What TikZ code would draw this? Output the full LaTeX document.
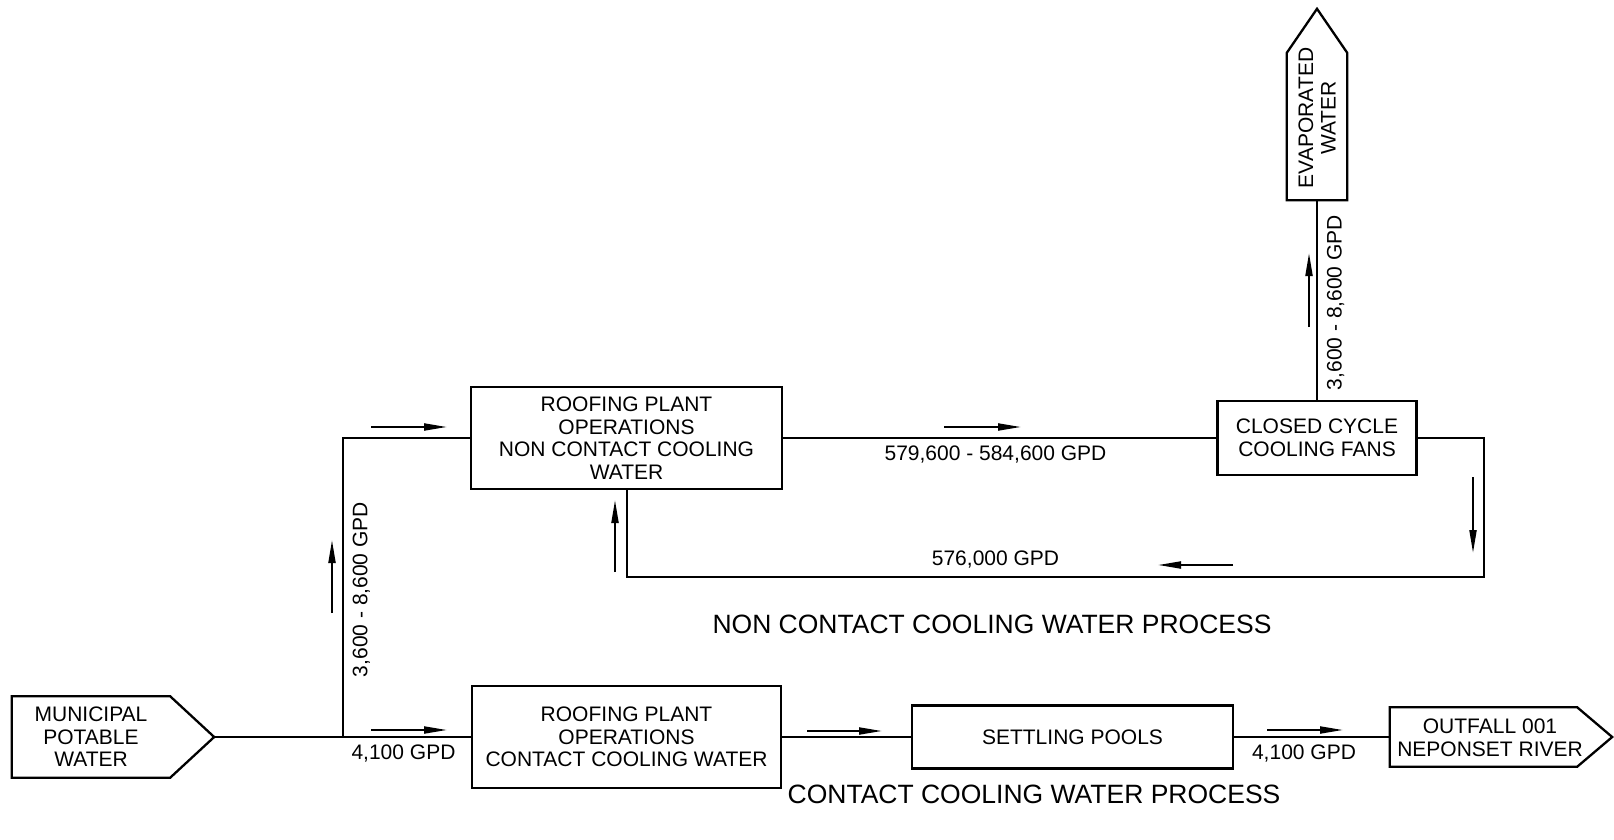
\documentclass[tikz,border=0pt]{standalone}
\usepackage{fontspec}
\setmainfont{Liberation Sans}
\usetikzlibrary{arrows.meta,calc}
\begin{document}
\begin{tikzpicture}[x=1pt,y=-1pt,
  every node/.style={font=\fontsize{21}{22.5}\selectfont, align=center, inner sep=0pt},
  box/.style={draw, line width=2.3pt},
  body/.style={draw=none},
  flow/.style={line width=2pt},
  dir/.style={line width=2pt, -{Triangle[length=23pt,width=7pt]}},
  lbl/.style={},
  ttl/.style={font=\fontsize{26.5}{30}\selectfont}]
\useasboundingbox (0,0) rectangle (1614,840);

% process boxes
\node[box, minimum width=311, minimum height=102] (nc) at (626.5,438) {ROOFING PLANT\\OPERATIONS\\NON CONTACT COOLING\\WATER};
\node[box, minimum width=309, minimum height=102] (cc) at (626.5,737) {ROOFING PLANT\\OPERATIONS\\CONTACT COOLING WATER};
\node[box, minimum width=321, minimum height=63] (sp) at (1072.5,737) {SETTLING POOLS};
\node[box, minimum width=199, minimum height=74] (ccf) at (1317,438) {CLOSED CYCLE\\COOLING FANS};

% municipal source
\node[body, minimum width=158, minimum height=81] (mun) at (91,737) {MUNICIPAL\\POTABLE\\WATER};
\coordinate (muntip) at ($(mun.east)+(44,0)$);
\draw[box, line join=miter] (mun.north west) -- (mun.north east) -- (muntip) -- (mun.south east) -- (mun.south west) -- cycle;

% outfall
\node[body, minimum width=187, minimum height=59] (out) at (1483.5,737) {};
\node (outt) at (1490,738) {OUTFALL 001\\NEPONSET RIVER};
\coordinate (outtip) at ($(out.east)+(35,0)$);
\draw[box] (out.north west) -- (out.north east) -- (outtip) -- (out.south east) -- (out.south west) -- cycle;

% evaporated water
\node[body, minimum width=60, minimum height=147] (ev) at (1317,126.5) {};
\node[rotate=90] (evt) at (1317,118) {EVAPORATED\\WATER};
\coordinate (evtip) at ($(ev.north)+(0,-44)$);
\draw[box] (ev.south west) -- (ev.north west) -- (evtip) -- (ev.north east) -- (ev.south east) -- cycle;

% connectors
\coordinate (j) at (343,737);
\coordinate (rc) at (1484,577);
\draw[flow] (muntip) -- (cc.west);
\draw[flow] (j) |- (nc.west);
\draw[flow] (nc.east) -- (ccf.west);
\draw[flow] (ccf.east) -| (rc) -| (nc.south);
\draw[flow] (ccf.north) -- (ev.south);
\draw[flow] (cc.east) -- (sp.west);
\draw[flow] (sp.east) -- (out.west);

% direction arrows
\draw[dir] (371,730) -- (447,730);
\draw[dir] (371,427) -- (447,427);
\draw[dir] (332,613) -- (332,540);
\draw[dir] (615,572) -- (615,500);
\draw[dir] (944,427) -- (1021,427);
\draw[dir] (1473,477) -- (1473,553);
\draw[dir] (1233,565) -- (1158,565);
\draw[dir] (1309,327) -- (1309,253);
\draw[dir] (807,731) -- (882,731);
\draw[dir] (1267,730) -- (1343,730);

% flow labels
\node[lbl] (l1) at (403.5,754) {4,100 GPD};
\node[lbl, rotate=90] (l2) at (361.5,589.5) {3,600 - 8,600 GPD};
\node[lbl] (l3) at (995.5,455) {579,600 - 584,600 GPD};
\node[lbl] (l4) at (995.5,560) {576,000 GPD};
\node[lbl, rotate=90] (l5) at (1335.5,302.5) {3,600 - 8,600 GPD};
\node[lbl] (l6) at (1304,754) {4,100 GPD};

% titles
\node[ttl] (t1) at (992,624) {NON CONTACT COOLING WATER PROCESS};
\node[ttl] (t2) at (1034,794) {CONTACT COOLING WATER PROCESS};
\end{tikzpicture}
\end{document}
